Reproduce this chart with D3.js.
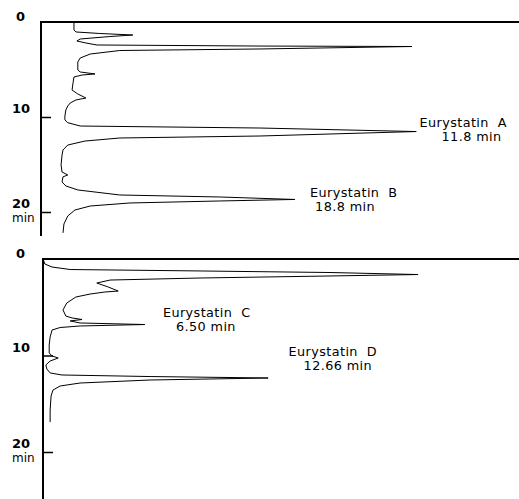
<!DOCTYPE html>
<html lang="en">
<head>
	<meta charset="utf-8">
	<title>Eurystatin HPLC</title>
	<style>
		body { margin: 0; background: #fff; }
		.trace { fill: none; stroke: #000; stroke-width: 1; stroke-linejoin: miter; }
		.axisline { stroke: #000; stroke-width: 2; }
		.tick-num { font-family: "DejaVu Sans", sans-serif; font-weight: bold; font-size: 13px; }
		.min-label { font-family: "DejaVu Sans", sans-serif; font-size: 12px; }
		.peak-label { font-family: "DejaVu Sans", sans-serif; font-size: 12.8px; letter-spacing: 0.4px; }
	</style>
</head>
<body>
	<div id="chart"></div>

	<script src="https://cdn.jsdelivr.net/npm/d3@7"></script>
	<script>
		var width = 519,
		    height = 499;

		// top chromatogram (A, B): retention time (min) and detector response (relative)
		var topTime =   [0, 0.84, 1.05, 1.21, 1.37, 1.53, 1.79, 2.0, 2.21, 2.42, 2.53, 2.58, 2.84, 3.0, 3.37, 3.79, 4.21,
		                 5.05, 5.26, 5.47, 5.58, 5.79, 6.42, 7.16, 7.58, 8.0, 8.21, 8.53, 8.84, 9.26, 9.89, 10.3, 10.6,
		                 10.95, 11.16, 11.53, 12.0, 12.21, 12.53, 12.95, 13.47, 14.0, 15.05, 15.79, 16.1, 16.3, 16.84,
		                 17.26, 17.68, 18.21, 18.42, 18.68, 18.84, 19.05, 19.37, 19.79, 20.42, 21.26, 22.2];
		var topSignal = [6.9, 6.9, 7.3, 12.3, 19.2, 14.4, 8.2, 7.5, 9.4, 11.7, 45.8, 77.6, 45.8, 16.5, 10.3, 8.2, 7.7,
		                 7.7, 8.2, 11.3, 8.6, 6.9, 6.7, 6.5, 7.7, 9.4, 7.3, 6.1, 5.6, 5.2, 5.0, 5.0, 5.6,
		                 8.2, 45.8, 78.5, 45.8, 16.5, 9.2, 5.6, 4.6, 4.4, 4.2, 4.4, 5.6, 4.6, 4.4,
		                 5.2, 7.7, 16.5, 37.4, 53.1, 37.4, 18.6, 10.3, 7.1, 5.6, 4.8, 4.6];

		// bottom chromatogram (C, D)
		var bottomTime =   [0, 0.52, 0.83, 1.09, 1.24, 1.4, 1.61, 1.76, 1.97, 2.18, 2.49, 2.9, 3.32, 3.42, 3.63, 3.94,
		                    4.56, 5.28, 5.91, 6.11, 6.27, 6.42, 6.63, 6.79, 6.94, 7.1, 7.36, 8.08, 8.91, 9.74, 10.05,
		                    10.26, 10.57, 10.98, 11.4, 11.81, 12.02, 12.18, 12.33, 12.54, 12.85, 13.16, 13.58, 14.2,
		                    15.65, 16.9];
		var bottomSignal = [0, 0.4, 1.9, 5.7, 33, 60.3, 78.8, 60.3, 33, 14.1, 11.3, 13.7, 15.8, 13, 9.9, 6.9,
		                    5.0, 4.2, 4.8, 6.1, 8.2, 5.7, 7.8, 21.4, 7.8, 3.6, 1.9, 1.5, 1.3, 1.3, 1.9,
		                    3.2, 1.5, 0.6, 0.8, 1.5, 4.0, 22.5, 47.3, 22.5, 7.8, 3.6, 2.1, 1.7,
		                    1.5, 1.5];

		var timeTicks = [0, 10, 20];
		var topPeaks = [
			{name: "Eurystatin  A", rt: "11.8 min", t: 11.0, r: 79.2, dx: 22},
			{name: "Eurystatin  B", rt: "18.8 min", t: 18.4, r: 56.3, dx: 5}
		];
		var bottomPeaks = [
			{name: "Eurystatin  C", rt: "6.50 min", t: 6.05, r: 25.2, dx: 13},
			{name: "Eurystatin  D", rt: "12.66 min", t: 10.1, r: 51.6, dx: 15}
		];

		var svg = d3.select("#chart")
				.append("svg")
				.attr("width", width)
				.attr("height", height);

		function panel(time, signal, peaks, opt) {
			var y = d3.scaleLinear().domain([0, 20]).range([opt.top, opt.bottom20]);
			var x = d3.scaleLinear().domain([0, 100]).range([opt.left, width]);
			var g = svg.append("g");

			// baseline of the recorder (time zero) and the time axis
			g.append("line").attr("class", "axisline")
				.attr("x1", opt.left).attr("x2", width)
				.attr("y1", y(0)).attr("y2", y(0));
			g.append("line").attr("class", "axisline")
				.attr("x1", opt.left).attr("x2", opt.left)
				.attr("y1", y(0) - 1).attr("y2", opt.axisEnd);

			var ticks = g.append("g")
				.attr("transform", "translate(" + opt.left + ",0)")
				.call(d3.axisRight(y).tickValues([10, 20]).tickSize(10).tickFormat(""));
			ticks.select(".domain").remove();
			ticks.selectAll("line").attr("stroke-width", 1.5);

			g.selectAll(".tick-num")
				.data(timeTicks)
				.enter().append("text")
				.attr("class", "tick-num")
				.attr("x", function(d) { return d == 0 ? 25 : 30; })
				.attr("y", function(d) { return y(d) - (d == 0 ? 1 : 4); })
				.attr("text-anchor", "end")
				.text(function(d) { return d; });
			g.append("text")
				.attr("class", "min-label")
				.attr("x", 12).attr("y", y(20) + 10)
				.text("min");

			var line = d3.line()
				.x(function(d) { return x(d[1]); })
				.y(function(d) { return y(d[0]); });
			g.append("path")
				.datum(d3.zip(time, signal))
				.attr("class", "trace")
				.attr("d", line);

			var lab = g.selectAll(".peak-label")
				.data(peaks)
				.enter().append("text")
				.attr("class", "peak-label")
				.attr("transform", function(d) { return "translate(" + x(d.r) + "," + y(d.t) + ")"; });
			lab.append("tspan").attr("x", 0).attr("y", 0)
				.style("white-space", "pre")
				.text(function(d) { return d.name; });
			lab.append("tspan").attr("x", function(d) { return d.dx; }).attr("y", 14)
				.text(function(d) { return d.rt; });
		}

		panel(topTime, topSignal, topPeaks, {top: 22, bottom20: 212, left: 41, axisEnd: 236});
		panel(bottomTime, bottomSignal, bottomPeaks, {top: 259, bottom20: 452, left: 43, axisEnd: 499});
	</script>
</body>
</html>
